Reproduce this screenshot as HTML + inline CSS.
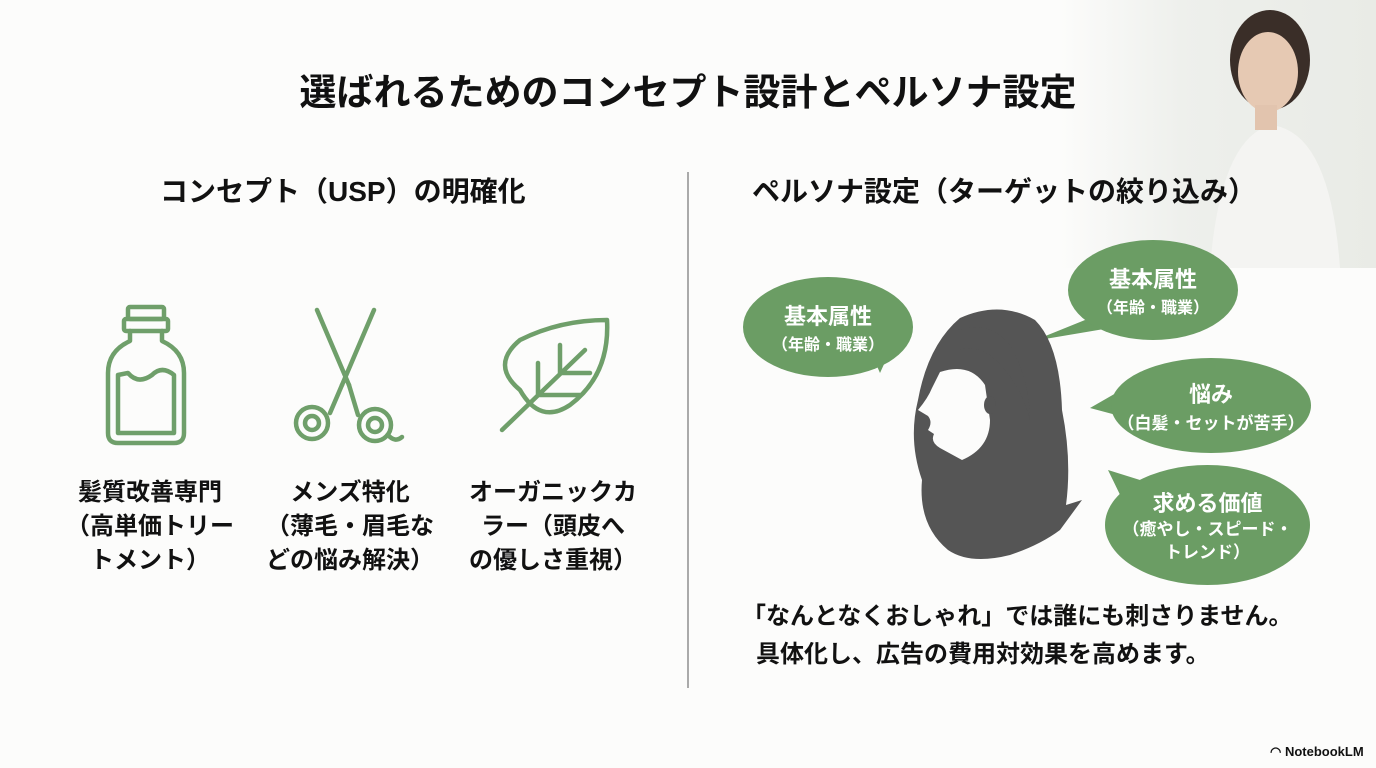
<!DOCTYPE html>
<html><head><meta charset="utf-8"><style>
body{margin:0;width:1376px;height:768px;background:#fcfcfb;position:relative;overflow:hidden;font-family:"Liberation Sans","Noto Sans CJK JP",sans-serif;color:#111}
.a{position:absolute;white-space:nowrap}
.t{font-weight:bold}
.lbl{position:absolute;text-align:center;font-weight:bold;font-size:24px;line-height:34px;width:200px}
.b{position:absolute;background:#6b9d64;border-radius:50%;color:#fff;text-align:center;font-weight:bold;display:flex;flex-direction:column;justify-content:center}
</style></head><body>
<div class="a" style="left:1060px;top:0;width:316px;height:268px;background:linear-gradient(90deg,rgba(252,252,251,1),rgba(236,238,234,0.9) 40%,#e9ebe6)"></div>
<svg class="a" style="left:1180px;top:0" width="196" height="268">
<ellipse cx="90" cy="60" rx="40" ry="50" fill="#3a2e28"/>
<ellipse cx="88" cy="72" rx="30" ry="40" fill="#e6c9b3"/>
<path d="M30 268 Q40 140 90 125 Q150 130 160 268Z" fill="#f4f4f2"/>
<rect x="75" y="105" width="22" height="25" fill="#e2c4ae"/>
</svg>
<div class="a t" style="left:0;width:1376px;text-align:center;top:62px;font-size:37px">選ばれるためのコンセプト設計とペルソナ設定</div>
<div class="a t" style="left:160px;top:170px;font-size:28px">コンセプト（USP）の明確化</div>
<div class="a t" style="left:752px;top:170px;font-size:28px">ペルソナ設定（ターゲットの絞り込み）</div>
<div class="a" style="left:687px;top:172px;width:2px;height:516px;background:#aaa"></div>
<svg class="a" style="left:90px;top:295px" width="560" height="160" fill="none" stroke="#6f9f6a" stroke-width="4.5" stroke-linecap="round" stroke-linejoin="round">
<rect x="38" y="12" width="36" height="12" rx="2"/><rect x="34" y="24" width="44" height="12" rx="2"/>
<path d="M40 36 L40 46 Q18 56 18 78 L18 138 Q18 148 28 148 L84 148 Q94 148 94 138 L94 78 Q94 56 72 46 L72 36"/>
<path d="M28 80 L28 138 L84 138 L84 80 Q72 70 62 80 Q48 90 38 78 Z"/>
<path d="M227 15 L259 90 M284 15 L252 90"/>
<path d="M259 90 L268 120 M252 90 L240 118"/>
<circle cx="222" cy="128" r="16"/><circle cx="222" cy="128" r="7"/>
<circle cx="285" cy="130" r="16"/><circle cx="285" cy="130" r="7"/>
<path d="M298 140 Q305 148 312 142"/>
<path d="M430 95 Q400 70 430 45 Q470 25 517 25 Q520 80 480 110 Q450 130 430 95Z"/>
<path d="M412 135 L495 55 M448 100 L448 68 M470 78 L470 50 M448 100 L490 100 M470 78 L500 78"/>
</svg>
<div class="lbl" style="left:50px;top:476px">髪質改善専門<br>（高単価トリー<br>トメント）</div>
<div class="lbl" style="left:250px;top:476px">メンズ特化<br>（薄毛・眉毛な<br>どの悩み解決）</div>
<div class="lbl" style="left:453px;top:476px">オーガニックカ<br>ラー（頭皮へ<br>の優しさ重視）</div>
<svg class="a" style="left:0;top:0" width="1376" height="768">
<g fill="#6b9d64">
<path d="M870 350 L880 373 L895 340Z"/>
<path d="M1085 320 L1033 341 L1110 328Z"/>
<path d="M1130 385 L1090 408 L1135 420Z"/>
<path d="M1140 480 L1108 470 L1125 505Z"/>
</g>
<path d="M960 318 Q1000 300 1035 320 Q1060 345 1062 410 Q1072 460 1066 505 L1082 500 L1060 530 Q1040 545 1010 555 Q970 565 948 550 Q918 525 922 480 Q908 440 918 400 Q928 345 960 318Z" fill="#555"/>
<path d="M940 372 Q970 362 985 385 L990 420 Q990 448 962 460 L940 448 Q930 442 934 434 L928 430 Q933 422 928 416 L918 410 Q928 398 932 388Z" fill="#fcfcfb"/>
<path d="M958 330 Q990 320 1010 345 Q1030 380 1030 420 Q1020 380 990 355 Q975 345 958 350Z" fill="#555"/>
<ellipse cx="990" cy="405" rx="6" ry="9" fill="#555"/>
</svg>
<div class="b" style="left:743px;top:277px;width:170px;height:100px"><div style="font-size:22px">基本属性</div><div style="font-size:16px">（年齢・職業）</div></div>
<div class="b" style="left:1068px;top:240px;width:170px;height:100px"><div style="font-size:22px">基本属性</div><div style="font-size:16px">（年齢・職業）</div></div>
<div class="b" style="left:1111px;top:358px;width:200px;height:95px"><div style="font-size:22px">悩み</div><div style="font-size:17px">（白髪・セットが苦手）</div></div>
<div class="b" style="left:1105px;top:465px;width:205px;height:120px"><div style="font-size:22px">求める価値</div><div style="font-size:17px;line-height:23px">（癒やし・スピード・<br>トレンド）</div></div>
<div class="a t" style="left:742px;top:598px;font-size:24px;line-height:38px">「なんとなくおしゃれ」では誰にも刺さりません。</div>
<div class="a t" style="left:756px;top:636px;font-size:24px;line-height:38px">具体化し、広告の費用対効果を高めます。</div>
<div class="a t" style="left:1270px;top:744px;font-size:13px">◠ NotebookLM</div>
</body></html>
